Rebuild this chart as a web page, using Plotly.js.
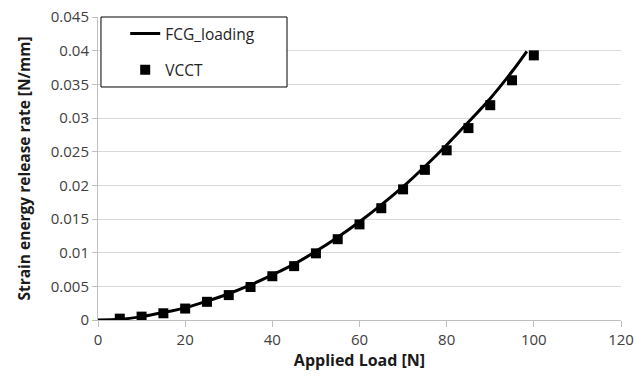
<!DOCTYPE html>
<html><head><meta charset="utf-8">
<script src="https://cdn.plot.ly/plotly-3.0.1.min.js"></script>
<style>body{margin:0;background:#fff}#c{width:636px;height:381px}</style>
</head><body><div id="c"></div>
<script>
const fcgLoad = [0, 5, 10, 15, 20, 25, 30, 35, 40, 45, 50, 55, 60, 65, 70, 75, 80, 85, 90, 95, 98.4];
const fcgG = [0, 0.0001, 0.0005, 0.0011, 0.0018, 0.0028, 0.0039, 0.0052, 0.0067, 0.0083, 0.0102, 0.0123, 0.0146, 0.0171, 0.0198, 0.0228, 0.0260, 0.0294, 0.0329, 0.0369, 0.0399];
const vcctLoad = [5, 10, 15, 20, 25, 30, 35, 40, 45, 50, 55, 60, 65, 70, 75, 80, 85, 90, 95, 100];
const vcctG = [0.0002, 0.0005, 0.0010, 0.0017, 0.0027, 0.0037, 0.0049, 0.0065, 0.0080, 0.0099, 0.0120, 0.0142, 0.0166, 0.0194, 0.0223, 0.0252, 0.0285, 0.0319, 0.0356, 0.0393];
const xTicks = [0, 20, 40, 60, 80, 100, 120];
const yTicks = [0, 0.005, 0.01, 0.015, 0.02, 0.025, 0.03, 0.035, 0.04, 0.045];

const traces = [
  {x: fcgLoad, y: fcgG, name: 'FCG_loading', legendgroup: 'a', mode: 'lines', line: {color: '#000', width: 3, shape: 'spline'}},
  {x: vcctLoad, y: vcctG, name: 'VCCT', legendgroup: 'b', mode: 'markers', marker: {symbol: 'square', color: '#000', size: 10}}
];
const font = "'Open Sans', 'Liberation Sans', sans-serif";
const layout = {
  width: 636, height: 381,
  margin: {l: 98, r: 15, t: 17, b: 61},
  paper_bgcolor: '#fff', plot_bgcolor: '#fff',
  font: {family: font, color: '#404040', size: 15},
  showlegend: true,
  legend: {x: 0.052, y: 1, xanchor: 'left', yanchor: 'top', bgcolor: 'rgba(0,0,0,0)', borderwidth: 0,
    font: {size: 15.5, color: '#222'}, tracegroupgap: 13},
  shapes: [{type: 'rect', xref: 'paper', yref: 'paper', x0: 0.0057, x1: 0.3614, y0: 0.769, y1: 1.0,
    line: {color: '#000', width: 1}, fillcolor: '#fff', layer: 'above'}],
  xaxis: {range: [0, 120], tickvals: xTicks, ticktext: xTicks.map(String), showgrid: false, zeroline: false,
    showline: true, linecolor: '#bfbfbf', linewidth: 1, ticks: 'outside', tickcolor: '#bfbfbf', ticklen: 6,
    tickfont: {size: 15, color: '#404040'},
    title: {text: 'Applied Load [N]', font: {size: 16, color: '#1a1a1a', weight: 'bold'}, standoff: 6}},
  yaxis: {range: [0, 0.045], tickvals: yTicks, ticktext: yTicks.map(v => String(v)), showgrid: true, gridcolor: '#d9d9d9',
    zeroline: false, showline: true, linecolor: '#bfbfbf', linewidth: 1, ticks: 'outside', tickcolor: '#bfbfbf', ticklen: 5,
    tickfont: {size: 15, color: '#404040'},
    title: {text: 'Strain energy release rate [N/mm]', font: {size: 15.5, color: '#1a1a1a', weight: 'bold'}, standoff: 16}}
};
Plotly.newPlot('c', traces, layout, {displayModeBar: false, staticPlot: true});
</script></body></html>
